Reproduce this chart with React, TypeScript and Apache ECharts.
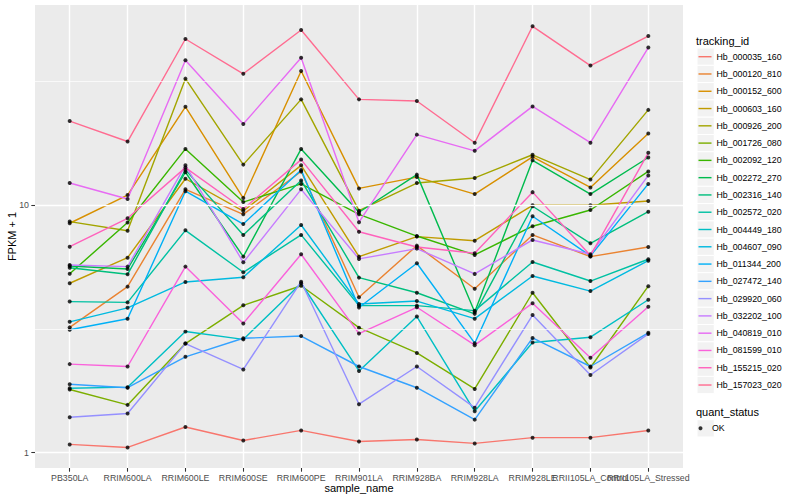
import React, { useEffect, useRef } from "react";
import * as echarts from "echarts";

const categories = [
  "PB350LA", "RRIM600LA", "RRIM600LE", "RRIM600SE", "RRIM600PE", "RRIM901LA",
  "RRIM928BA", "RRIM928LA", "RRIM928LE", "RRII105LA_Control", "RRII105LA_Stressed",
];

const trackingIds = [
  "Hb_000035_160", "Hb_000120_810", "Hb_000152_600", "Hb_000603_160", "Hb_000926_200",
  "Hb_001726_080", "Hb_002092_120", "Hb_002272_270", "Hb_002316_140", "Hb_002572_020",
  "Hb_004449_180", "Hb_004607_090", "Hb_011344_200", "Hb_027472_140", "Hb_029920_060",
  "Hb_032202_100", "Hb_040819_010", "Hb_081599_010", "Hb_155215_020", "Hb_157023_020",
];

const hb_000035_160 = [1.08, 1.05, 1.27, 1.12, 1.23, 1.11, 1.13, 1.09, 1.15, 1.15, 1.23];
const hb_000120_810 = [3.21, 4.69, 11.6, 9.19, 13.7, 4.25, 6.87, 4.6, 7.59, 6.2, 6.78];
const hb_000152_600 = [8.46, 11.0, 25.0, 10.7, 34.9, 11.7, 13.0, 11.1, 15.7, 11.8, 19.5];
const hb_000603_160 = [4.84, 6.14, 12.8, 9.48, 14.5, 6.2, 7.47, 7.19, 10.0, 10.0, 10.4];
const hb_000926_200 = [8.59, 7.89, 32.5, 14.6, 26.8, 9.51, 12.3, 12.9, 16.0, 12.7, 24.3];
const hb_001726_080 = [1.8, 1.56, 2.76, 3.94, 4.73, 3.2, 2.53, 1.81, 4.43, 2.21, 4.71];
const hb_002092_120 = [5.29, 8.52, 16.9, 10.3, 12.2, 9.19, 7.51, 6.3, 8.23, 9.57, 13.7];
const hb_002272_270 = [5.68, 5.53, 13.6, 6.2, 16.9, 9.37, 13.3, 3.7, 15.2, 11.1, 15.6];
const hb_002316_140 = [5.59, 5.26, 13.9, 7.59, 12.6, 5.1, 4.43, 3.64, 9.91, 7.02, 9.42];
const hb_002572_020 = [4.08, 4.05, 7.92, 5.36, 7.59, 3.93, 3.93, 3.75, 5.9, 4.94, 6.05];
const hb_004449_180 = [1.82, 1.84, 3.09, 2.87, 4.84, 2.14, 3.55, 1.47, 2.79, 2.93, 4.15];
const hb_004607_090 = [3.38, 3.85, 4.9, 5.12, 8.32, 3.99, 4.1, 3.48, 5.18, 4.5, 5.97];
const hb_011344_200 = [3.14, 3.48, 11.4, 8.4, 13.9, 3.86, 5.83, 2.77, 9.03, 6.24, 12.2];
const hb_027472_140 = [1.89, 1.83, 2.44, 2.9, 2.96, 2.23, 1.83, 1.36, 2.91, 2.23, 3.05];
const hb_029920_060 = [1.39, 1.44, 2.76, 2.17, 4.91, 1.57, 2.23, 1.52, 3.6, 2.06, 3.02];
const hb_032202_100 = [5.74, 5.65, 14.5, 5.88, 11.6, 6.07, 6.68, 5.28, 7.24, 6.34, 13.2];
const hb_040819_010 = [12.3, 10.6, 38.6, 21.3, 39.5, 8.54, 19.3, 16.6, 25.1, 17.9, 43.4];
const hb_081599_010 = [2.28, 2.23, 5.65, 3.33, 6.34, 3.03, 3.87, 2.72, 4.02, 2.42, 3.89];
const hb_155215_020 = [6.8, 8.86, 14.2, 9.66, 15.3, 7.82, 6.78, 6.4, 11.3, 6.26, 16.3];
const hb_157023_020 = [21.9, 18.1, 47.0, 34.0, 51.1, 26.8, 26.4, 17.9, 52.9, 36.7, 48.3];

const seriesValues = [
  hb_000035_160, hb_000120_810, hb_000152_600, hb_000603_160, hb_000926_200,
  hb_001726_080, hb_002092_120, hb_002272_270, hb_002316_140, hb_002572_020,
  hb_004449_180, hb_004607_090, hb_011344_200, hb_027472_140, hb_029920_060,
  hb_032202_100, hb_040819_010, hb_081599_010, hb_155215_020, hb_157023_020,
];

const quantStatus = ["OK"];
const yMajorTicks = [1, 10];
const yMinorBreaks = [3.1623, 31.623];

const palette = [
  "#F8766D", "#EA8331", "#D89000", "#C09B00", "#A3A500", "#7CAE00", "#39B600",
  "#00BB4E", "#00BF7D", "#00C1A3", "#00BFC4", "#00BAE0", "#00B0F6", "#35A2FF",
  "#9590FF", "#C77CFF", "#E76BF3", "#FA62DB", "#FF62BC", "#FF6C91",
];

const FONT = "'Liberation Sans', Arial, Helvetica, sans-serif";
const Y_MIN = 0.867;
const Y_MAX = 64.5;

const PANEL_L = 35;
const PANEL_T = 5;
const PANEL_W = 648;
const PANEL_H = 463;
const UNIT = PANEL_W / (categories.length - 1 + 1.2);
const DATA_L = PANEL_L + 0.6 * UNIT;
const DATA_W = UNIT * (categories.length - 1);

const KEY = 17.28;
const LEG1_TOP = 48.06;
const LEG2_TOP = 419.7;

function buildOption() {
  const lineSeries = trackingIds.map((name, i) => ({
    name,
    type: "line",
    xAxisIndex: 1,
    yAxisIndex: 1,
    data: seriesValues[i],
    symbol: "none",
    showSymbol: false,
    silent: true,
    itemStyle: { color: palette[i] },
    lineStyle: { color: palette[i], width: 1.42 },
    z: 2,
  }));

  const points: Array<[number, number]> = [];
  seriesValues.forEach((vals) => vals.forEach((v, j) => points.push([j, v])));

  const keyRects: any[] = [];
  trackingIds.forEach((_, i) => {
    keyRects.push({
      type: "rect",
      shape: { x: 697, y: LEG1_TOP + i * KEY, width: KEY, height: KEY },
      style: { fill: "#F2F2F2", stroke: "#FFFFFF", lineWidth: 1 },
      z: -1,
      silent: true,
    });
  });
  keyRects.push({
    type: "rect",
    shape: { x: 697, y: LEG2_TOP, width: KEY, height: KEY },
    style: { fill: "#F2F2F2", stroke: "#FFFFFF", lineWidth: 1 },
    z: -1,
    silent: true,
  });

  return {
    animation: false,
    backgroundColor: "#FFFFFF",
    textStyle: { fontFamily: FONT },
    grid: [
      {
        left: PANEL_L, top: PANEL_T, width: PANEL_W, height: PANEL_H,
        show: true, backgroundColor: "#EBEBEB", borderWidth: 0, borderColor: "transparent",
        containLabel: false,
      },
      {
        left: DATA_L, top: PANEL_T, width: DATA_W, height: PANEL_H,
        show: false, containLabel: false,
      },
    ],
    xAxis: [
      { type: "value", gridIndex: 0, min: 0, max: 1, show: false },
      {
        type: "category",
        gridIndex: 1,
        data: categories,
        boundaryGap: false,
        axisLine: { show: false },
        axisTick: { show: true, interval: 0, length: 3.7, lineStyle: { color: "#333333", width: 1.07 } },
        axisLabel: { interval: 0, color: "#4D4D4D", fontSize: 8.8, margin: 5, fontFamily: FONT },
        splitLine: { show: true, interval: 0, lineStyle: { color: "#FFFFFF", width: 1.42 } },
      },
    ],
    yAxis: [
      {
        type: "log",
        logBase: 10,
        gridIndex: 0,
        min: Y_MIN,
        max: Y_MAX,
        axisLine: { show: false },
        axisTick: {
          show: true, length: 3.7, customValues: yMajorTicks,
          lineStyle: { color: "#333333", width: 1.07 },
        },
        axisLabel: {
          color: "#4D4D4D", fontSize: 8.8, margin: 6, fontFamily: FONT,
          customValues: yMajorTicks,
          formatter: (v: number) =>
            yMajorTicks.some((t) => Math.abs(t - v) < 1e-6) ? String(Math.round(v)) : "",
        },
        splitLine: { show: false },
        minorSplitLine: { show: false },
      },
      {
        type: "log",
        logBase: 10,
        gridIndex: 1,
        min: Y_MIN,
        max: Y_MAX,
        show: false,
        splitLine: { show: false },
      },
    ],
    legend: [
      {
        orient: "vertical",
        left: 698.5,
        top: LEG1_TOP,
        padding: 0,
        itemGap: 0,
        itemWidth: 13,
        itemHeight: 1.42,
        icon: "rect",
        selectedMode: false,
        data: trackingIds,
        textStyle: { fontSize: 8.8, color: "#000000", lineHeight: KEY, fontFamily: FONT },
      },
      {
        orient: "vertical",
        left: 698.5,
        top: LEG2_TOP,
        padding: 0,
        itemGap: 0,
        itemWidth: 13,
        itemHeight: 4,
        icon: "circle",
        selectedMode: false,
        data: quantStatus,
        textStyle: { fontSize: 8.8, color: "#000000", lineHeight: KEY, fontFamily: FONT },
      },
    ],
    graphic: [
      ...keyRects,
      {
        type: "text", x: 12, y: PANEL_T + PANEL_H / 2, rotation: Math.PI / 2, silent: true,
        style: { text: "FPKM + 1", fontSize: 11, fill: "#000000", align: "center", verticalAlign: "middle", fontFamily: FONT },
      },
      {
        type: "text", x: PANEL_L + PANEL_W / 2, y: 488, silent: true,
        style: { text: "sample_name", fontSize: 11, fill: "#000000", align: "center", verticalAlign: "middle", fontFamily: FONT },
      },
      {
        type: "text", x: 696, y: 40.7, silent: true,
        style: { text: "tracking_id", fontSize: 11, fill: "#000000", align: "left", verticalAlign: "middle", fontFamily: FONT },
      },
      {
        type: "text", x: 696, y: 412.3, silent: true,
        style: { text: "quant_status", fontSize: 11, fill: "#000000", align: "left", verticalAlign: "middle", fontFamily: FONT },
      },
    ],
    series: [
      {
        name: "_grid",
        type: "line",
        xAxisIndex: 0,
        yAxisIndex: 0,
        data: [[0, 1], [1, 1]],
        symbol: "none",
        silent: true,
        lineStyle: { opacity: 0, width: 0 },
        z: 1,
        markLine: {
          silent: true,
          symbol: ["none", "none"],
          label: { show: false },
          lineStyle: { color: "#FFFFFF", type: "solid", width: 1.42 },
          data: [
            ...yMajorTicks.map((v) => ({ yAxis: v, lineStyle: { color: "#FFFFFF", type: "solid", width: 1.42 } })),
            ...yMinorBreaks.map((v) => ({ yAxis: v, lineStyle: { color: "#FFFFFF", type: "solid", width: 0.71 } })),
          ],
        },
      },
      ...lineSeries,
      {
        name: "OK",
        type: "scatter",
        xAxisIndex: 1,
        yAxisIndex: 1,
        data: points,
        symbol: "circle",
        symbolSize: 4,
        silent: true,
        itemStyle: { color: "#000000" },
        z: 3,
      },
    ],
  };
}

export default function App() {
  const ref = useRef<HTMLDivElement>(null);
  useEffect(() => {
    if (!ref.current) return;
    const chart = echarts.init(ref.current, null, { renderer: "svg" });
    chart.setOption(buildOption() as any);
    return () => chart.dispose();
  }, []);
  return (
    <div
      ref={ref}
      style={{ position: "fixed", left: 0, top: 0, width: 800, height: 500, background: "#fff" }}
    />
  );
}
